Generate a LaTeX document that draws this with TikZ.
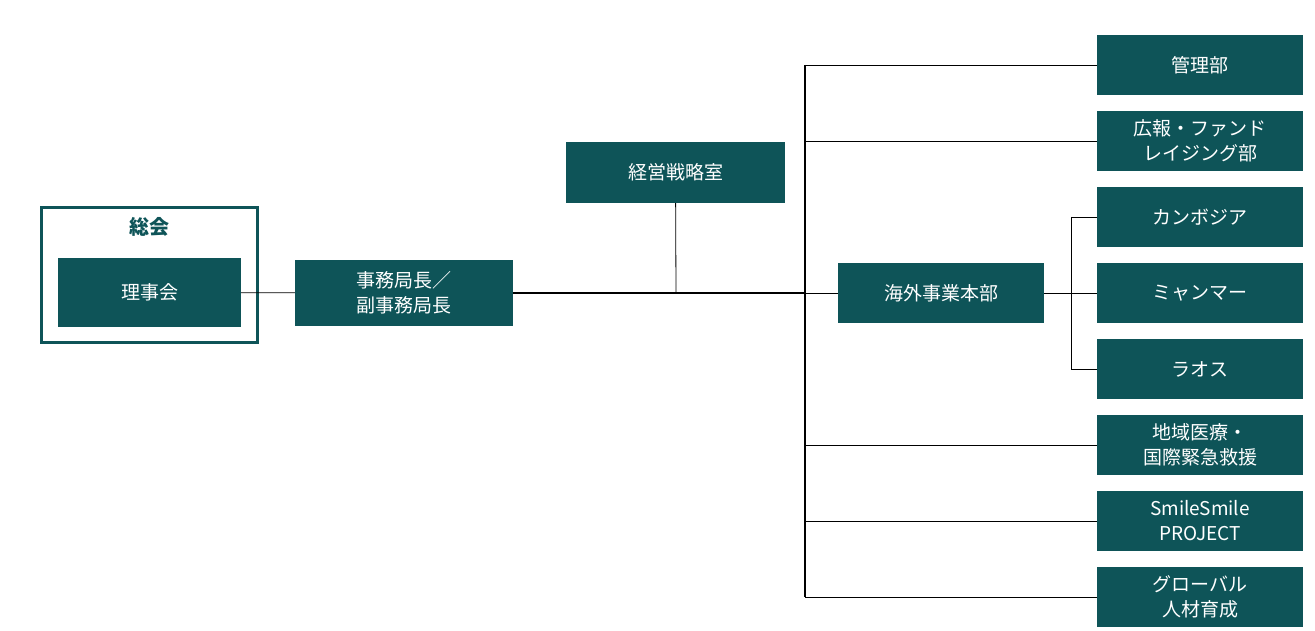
\documentclass[tikz,border=0pt]{standalone}
\usepackage{fontspec}
\setmainfont{Noto Sans CJK JP}
\definecolor{teal}{HTML}{0E5458}
\begin{document}
\begin{tikzpicture}[x=1pt,y=-1pt,
  box/.style={fill=teal,text=white,minimum width=#1,inner sep=0pt,align=center,font=\fontsize{19}{25}\selectfont},
  box/.default=206pt,
  ln/.style={draw=black,line width=0.8pt}]
\useasboundingbox (0,0) rectangle (1315,631);
\node[draw=teal,line width=3pt,minimum width=216pt,minimum height=134pt] (gen) at (149,275) {};
\node[text=teal,font=\fontsize{20}{24}\selectfont\bfseries] (genl) at (149,227) {総会};
\node[box=183pt,minimum height=69pt] (rij) at (149.5,292.5) {理事会};
\node[box=218pt,minimum height=66pt] (jim) at (404,293) {事務局長／\\副事務局長};
\node[box=219pt,minimum height=61pt] (kei) at (675.5,172.5) {経営戦略室};
\node[box=206pt,minimum height=60pt] (kai) at (941,293) {海外事業本部};
\foreach \n/\y/\t in {kan/65/管理部, kou/141/広報・ファンド\\レイジング部, cam/217/カンボジア, mya/293/ミャンマー, lao/369/ラオス, chi/445/地域医療・\\国際緊急救援, smi/521/SmileSmile\\PROJECT, glo/597/グローバル\\人材育成}
  \node[box=206pt,minimum height=60pt] (\n) at (1200,\y) {\t};
\coordinate (bus) at (805,293);
\coordinate (kj) at (676,293);
\coordinate (sub) at (1071,293);
\draw[ln] (rij) -- (jim);
\draw[line width=1.5pt] (jim) -- (bus);
\draw[ln] (bus) -- (kai);
\draw[ln] (kei) -- (kj);
\draw[line width=1.2pt] (bus |- kan) -- (bus |- glo);
\foreach \n in {kan,kou,chi,smi,glo} \draw[ln] (bus |- \n) -- (\n.west);
\draw[ln] (kai) -- (sub);
\draw[ln] (sub |- cam) -- (sub |- lao);
\foreach \n in {cam,mya,lao} \draw[ln] (sub |- \n) -- (\n.west);
\end{tikzpicture}
\end{document}
